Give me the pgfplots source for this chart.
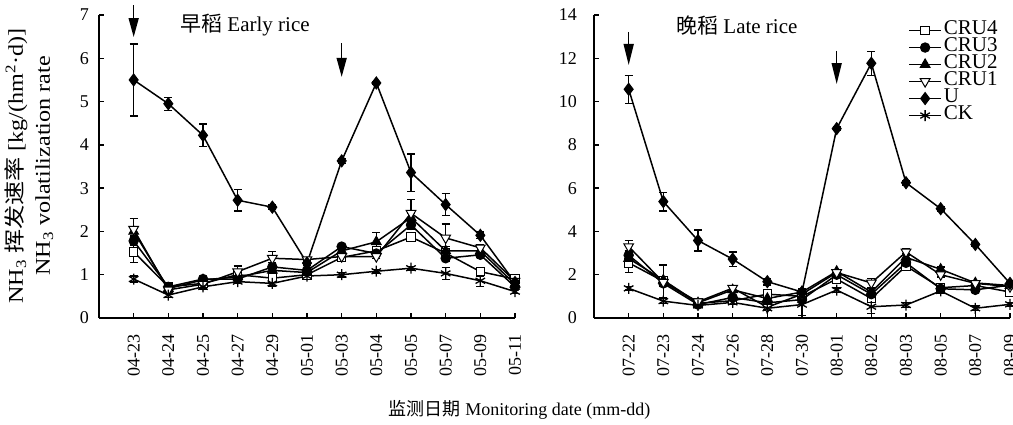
\documentclass[border=0pt]{standalone}
\usepackage{pgfplots}
\pgfplotsset{compat=1.18}
\usepackage{pgfplotstable}
\usepackage{graphicx}
\usepackage{fontspec}
\setmainfont{Liberation Serif}
\newfontfamily\cjk{Noto Sans CJK SC}
\usetikzlibrary{arrows.meta}

\pgfplotstableread{
x  U     Ue   CK   CKe  Ca   Cae  Cb   Cbe  Cc   Cce  Cd   Cde
0  5.50  0.83 0.90 0.07 2.05 0.25 2.00 0.10 1.78 0.10 1.53 0.24
1  4.95  0.15 0.53 0.05 0.65 0.04 0.68 0.04 0.72 0.04 0.72 0.04
2  4.22  0.26 0.72 0.05 0.78 0.06 0.88 0.06 0.90 0.06 0.80 0.05
3  2.72  0.25 0.84 0.05 1.07 0.13 0.95 0.05 0.90 0.05 1.00 0.06
4  2.56  0.05 0.80 0.06 1.38 0.15 1.10 0.08 1.18 0.10 0.92 0.08
5  1.27  0.05 0.97 0.04 1.35 0.05 1.05 0.05 1.10 0.05 1.00 0.05
6  3.63  0.06 1.00 0.05 1.42 0.05 1.55 0.06 1.65 0.05 1.40 0.06
7  5.43  0.03 1.08 0.04 1.42 0.05 1.76 0.22 1.49 0.05 1.55 0.06
8  3.36  0.43 1.15 0.04 2.42 0.32 2.32 0.10 2.15 0.10 1.87 0.08
9  2.62  0.26 1.03 0.14 1.85 0.32 1.55 0.10 1.38 0.08 1.50 0.08
10 1.91  0.08 0.86 0.14 1.62 0.08 1.55 0.08 1.46 0.06 1.07 0.10
11 0.82  0.05 0.61 0.05 0.85 0.05 0.78 0.05 0.72 0.05 0.90 0.05
}\early

\pgfplotstableread{
x  U     Ue   CK   CKe  Ca   Cae  Cb   Cbe  Cc   Cce  Cd   Cde
0  10.57 0.65 1.37 0.08 3.30 0.27 2.75 0.20 2.90 0.20 2.55 0.45
1  5.38  0.43 0.78 0.12 1.65 0.15 1.75 0.15 1.60 0.15 1.70 0.75
2  3.58  0.48 0.58 0.10 0.75 0.15 0.70 0.15 0.62 0.10 0.68 0.15
3  2.72  0.33 0.72 0.10 1.38 0.10 1.30 0.10 0.95 0.10 0.80 0.10
4  1.68  0.15 0.45 0.10 0.50 0.10 0.90 0.10 0.70 0.10 1.10 0.15
5  1.20  0.10 0.62 0.50 1.10 0.15 1.20 0.15 0.85 0.10 1.00 0.10
6  8.75  0.10 1.29 0.10 2.10 0.10 2.15 0.10 2.00 0.10 1.80 0.10
7  11.77 0.55 0.52 0.30 1.62 0.20 1.20 0.15 1.10 0.15 0.90 0.15
8  6.25  0.10 0.60 0.10 3.05 0.15 2.80 0.15 2.55 0.20 2.40 0.15
9  5.05  0.10 1.25 0.10 2.00 0.10 2.25 0.10 1.35 0.10 1.40 0.10
10 3.40  0.10 0.45 0.10 1.60 0.10 1.62 0.10 1.30 0.10 1.50 0.10
11 1.60  0.10 0.63 0.10 1.45 0.10 1.50 0.10 1.52 0.10 1.20 0.10
}\late

\pgfplotsset{
  rice/.style={
    scale only axis, width=416pt, height=303pt,
    anchor=south west,
    xmin=-1, xmax=11, ymin=0,
    axis x line*=bottom, axis y line*=left,
    axis line style={line width=1.3pt, black},
    tick style={line width=1.3pt, black},
    tick align=inside, major tick length=5pt,
    xtick={0,...,11},
    /pgf/number format/assume math mode=true,
    tick label style={font=\fontsize{18}{18}\selectfont},
    xticklabel style={rotate=90, anchor=east, inner sep=1pt},
    xticklabel shift=15pt,
    yticklabel style={anchor=east, inner sep=0pt},
    clip=false,
    every axis plot/.append style={line width=1.5pt, black},
    error bars/y dir=both, error bars/y explicit,
    error bars/error mark options={rotate=90, mark size=4pt, line width=1.3pt, black},
    error bars/error bar style={line width=1.3pt, black},
  },
  sCd/.style={mark=square*, mark size=4.3pt, mark options={solid, fill=white, line width=1pt}},
  sCc/.style={mark=*, mark size=4.7pt, mark options={solid, fill=black, line width=1pt}},
  sCb/.style={mark=triangle*, mark size=5.6pt, mark options={solid, fill=black, line width=1pt}},
  sCa/.style={mark=triangle*, mark size=5.6pt, mark options={solid, fill=white, rotate=180, line width=1pt}},
  sU/.style={mark=diamond*, mark size=6pt, mark options={solid, fill=black, line width=1pt}},
  sCK/.style={mark=asterisk, mark size=5.5pt, mark options={solid, line width=1.3pt}},
}

\begin{document}
\begin{tikzpicture}
\useasboundingbox (0pt,0pt) rectangle (1013pt,425pt);

% ---------------- Early rice ----------------
\begin{axis}[rice, at={(99pt,107pt)},
  ymax=7, ytick={0,1,...,7},
  yticklabel shift=10pt,
  xticklabels={04-23,04-24,04-25,04-27,04-29,05-01,05-03,05-04,05-05,05-07,05-09,05-11},
]
\addplot[sCd] table[x=x, y=Cd, y error=Cde] {\early};
\addplot[sCc] table[x=x, y=Cc, y error=Cce] {\early};
\addplot[sCb] table[x=x, y=Cb, y error=Cbe] {\early};
\addplot[sCa] table[x=x, y=Ca, y error=Cae] {\early};
\addplot[sU]  table[x=x, y=U,  y error=Ue]  {\early};
\addplot[sCK] table[x=x, y=CK, y error=CKe] {\early};
\draw[line width=1.5pt, -{Triangle[length=19pt,width=10pt]}] (axis cs:0,7.23) -- (axis cs:0,6.49);
\draw[line width=1.5pt, -{Triangle[length=19pt,width=10pt]}] (axis cs:6,6.35) -- (axis cs:6,5.57);
\node[font=\fontsize{21}{24}\selectfont] at (axis cs:3.21,6.77) {{\cjk 早稻} Early rice};
\end{axis}

% ---------------- Late rice ----------------
\begin{axis}[rice, at={(594pt,107pt)},
  ymax=14, ytick={0,2,...,14},
  yticklabel shift=17pt,
  xticklabels={07-22,07-23,07-24,07-26,07-28,07-30,08-01,08-02,08-03,08-05,08-07,08-09},
  legend style={at={(0.748,0.984)}, anchor=north west, draw=none, fill=none,
    font=\fontsize{21}{17}\selectfont, column sep=2pt,
    nodes={inner sep=0pt, text height=12.5pt, text depth=4.5pt}},
  legend cell align=left,
  legend image code/.code={\draw[mark repeat=2, mark phase=2] plot coordinates {(0pt,0pt) (16pt,0pt) (32pt,0pt)};},
  legend entries={CRU4,CRU3,CRU2,CRU1,U,CK},
]
\addplot[sCd] table[x=x, y=Cd, y error=Cde] {\late};
\addplot[sCc] table[x=x, y=Cc, y error=Cce] {\late};
\addplot[sCb] table[x=x, y=Cb, y error=Cbe] {\late};
\addplot[sCa] table[x=x, y=Ca, y error=Cae] {\late};
\addplot[sU]  table[x=x, y=U,  y error=Ue]  {\late};
\addplot[sCK] table[x=x, y=CK, y error=CKe] {\late};
\draw[line width=1.5pt, -{Triangle[length=21pt,width=10pt]}] (axis cs:0,13.22) -- (axis cs:0,11.69);
\draw[line width=1.5pt, -{Triangle[length=21pt,width=10pt]}] (axis cs:6,12.34) -- (axis cs:6,10.81);
\node[font=\fontsize{21}{24}\selectfont] at (axis cs:3.12,13.49) {{\cjk 晚稻} Late rice};
\end{axis}

% y label
\node[rotate=90, inner sep=0pt] at (31pt,259pt) {\scalebox{1.15}[1]{\fontsize{21}{27}\selectfont\begin{tabular}{@{}c@{}}NH\textsubscript{3} {\cjk 挥发速率} [kg/(hm\textsuperscript{2}·d)]\\ NH\textsubscript{3} volatilization rate\end{tabular}}};
% x label
\node[font=\fontsize{18}{20}\selectfont] at (519.5pt,15pt) {{\cjk 监测日期} Monitoring date (mm-dd)};
\end{tikzpicture}
\end{document}
